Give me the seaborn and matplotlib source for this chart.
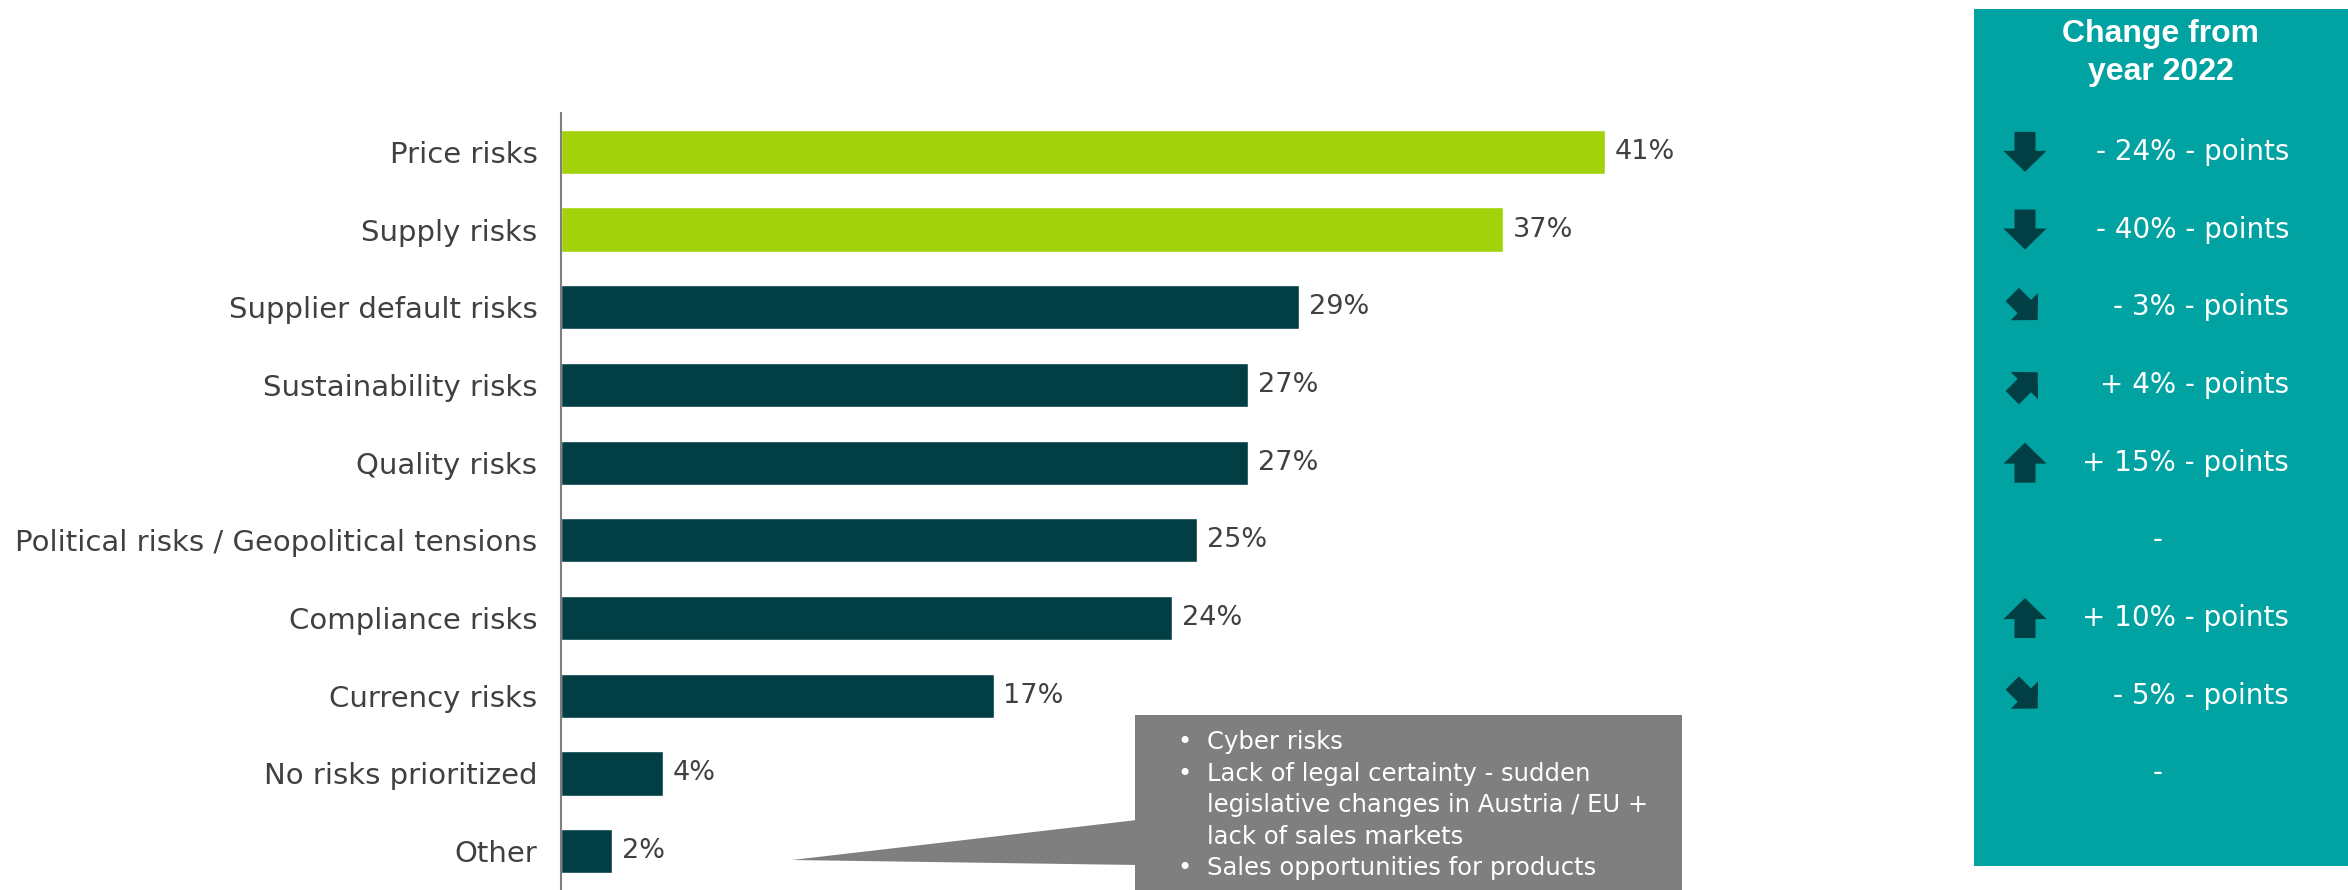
import numpy as np
import pandas as pd
import matplotlib
matplotlib.use("Agg")
import matplotlib.pyplot as plt
import seaborn as sns
from matplotlib import transforms
from matplotlib.patches import Polygon, Rectangle

# ---------------- data ----------------
categories = [
    "Price risks",
    "Supply risks",
    "Supplier default risks",
    "Sustainability risks",
    "Quality risks",
    "Political risks / Geopolitical tensions",
    "Compliance risks",
    "Currency risks",
    "No risks prioritized",
    "Other",
]
values = [41, 37, 29, 27, 27, 25, 24, 17, 4, 2]
highlight = [True, True, False, False, False, False, False, False, False, False]

# change vs. 2022 (one entry per category row, "Other" has none)
change_labels = [
    "- 24% - points",
    "- 40% - points",
    "- 3% - points",
    "+ 4% - points",
    "+ 15% - points",
    "-",
    "+ 10% - points",
    "- 5% - points",
    "-",
    "",
]
change_direction = ["down", "down", "down-right", "up-right", "up", None, "up", "down-right", None, None]

panel_title = ["Change from", "year 2022"]

callout_lines = [
    ("•", "Cyber risks"),
    ("•", "Lack of legal certainty - sudden"),
    ("", "legislative changes in Austria / EU +"),
    ("", "lack of sales markets"),
    ("•", "Sales opportunities for products"),
]

# ---------------- style ----------------
GREEN = "#A2D30A"
DARK = "#013F45"
TEAL = "#00A3A2"
GREY_BOX = "#7F7F7F"
TEXT = "#404040"
AXIS = "#7F7F7F"

sns.set_theme(style="white")
plt.rcParams["font.family"] = ["DejaVu Sans"]

W, H = 2348, 890
fig = plt.figure(figsize=(W / 100, H / 100), dpi=100)


def fx(px):
    return px / W


def fy(py):
    return 1 - py / H


ax = fig.add_axes([fx(561), 0, fx(1339), (890 - 113) / 890])

df = pd.DataFrame({
    "category": categories,
    "value": values,
    "group": ["highlight" if h else "base" for h in highlight],
})
sns.barplot(
    data=df, x="value", y="category", hue="group",
    palette={"highlight": GREEN, "base": DARK},
    order=categories, width=0.57, dodge=False, legend=False,
    saturation=1, ax=ax,
)

ax.set_xlim(0, 52.6)
ax.set_ylim(len(categories) - 0.5, -0.5)
ax.set_xlabel("")
ax.set_ylabel("")
ax.set_xticks([])
for s in ["top", "right", "bottom"]:
    ax.spines[s].set_visible(False)
ax.spines["left"].set_color(AXIS)
ax.spines["left"].set_linewidth(1.5)
ax.tick_params(axis="y", length=0, pad=17, labelsize=21, labelcolor=TEXT)
ax.set_facecolor("none")

for c in ax.containers:
    labs = ["" if np.isnan(v) else f"{v:.0f}%" for v in c.datavalues]
    ax.bar_label(c, labels=labs, padding=7, fontsize=19.5, color=TEXT)

# ---------------- right panel ----------------
fig.add_artist(Rectangle((fx(1974), fy(866)), fx(2348) - fx(1974), (866 - 9) / H,
                         transform=fig.transFigure, facecolor=TEAL, edgecolor="none", zorder=0))
for line, base in zip(panel_title, [42, 80]):
    fig.text(fx(2161), fy(base), line, ha="center", va="baseline", fontsize=23,
             fontweight="bold", family="Liberation Sans", color="white")

blend = transforms.blended_transform_factory(fig.transFigure, ax.transData)
arrow_shape = np.array([(-10.5, 20), (10.5, 20), (10.5, 1), (21.5, 1), (0, -20), (-21.5, 1), (-10.5, 1)])
angles = {"down": 0, "down-right": 45, "up-right": 135, "up": 180}
scales = {"down": 1.0, "down-right": 0.9, "up-right": 0.9, "up": 1.0}

for i, (lab, d) in enumerate(zip(change_labels, change_direction)):
    if lab == "-":
        fig.text(fx(2158), i, lab, ha="center", va="center", fontsize=20, color="white", transform=blend)
    elif lab:
        fig.text(fx(2289), i, lab, ha="right", va="center", fontsize=20, color="white", transform=blend)
    if d:
        y_disp = ax.transData.transform((0, i))[1]
        tr = transforms.Affine2D().scale(scales[d]).rotate_deg(angles[d]).translate(2025, y_disp)
        fig.add_artist(Polygon(arrow_shape, closed=True, transform=tr, facecolor=DARK, edgecolor="none", zorder=2))

# ---------------- callout ----------------
fig.add_artist(Rectangle((fx(1135), 0), fx(1682) - fx(1135), fy(715),
                         transform=fig.transFigure, facecolor=GREY_BOX, edgecolor="none", zorder=3))
fig.add_artist(Polygon([(fx(1137), fy(820)), (fx(792), fy(860)), (fx(1137), fy(865))], closed=True,
                       transform=fig.transFigure, facecolor=GREY_BOX, edgecolor="none", zorder=3))
fig.text(fx(1177), fy(730), "\n".join(b for b, _ in callout_lines), ha="left", va="top",
         fontsize=17.5, linespacing=1.4, color="white", zorder=4)
fig.text(fx(1207), fy(730), "\n".join(t for _, t in callout_lines), ha="left", va="top",
         fontsize=17.5, linespacing=1.4, color="white", zorder=4)

fig.savefig("out.png", dpi=100, facecolor="white")
